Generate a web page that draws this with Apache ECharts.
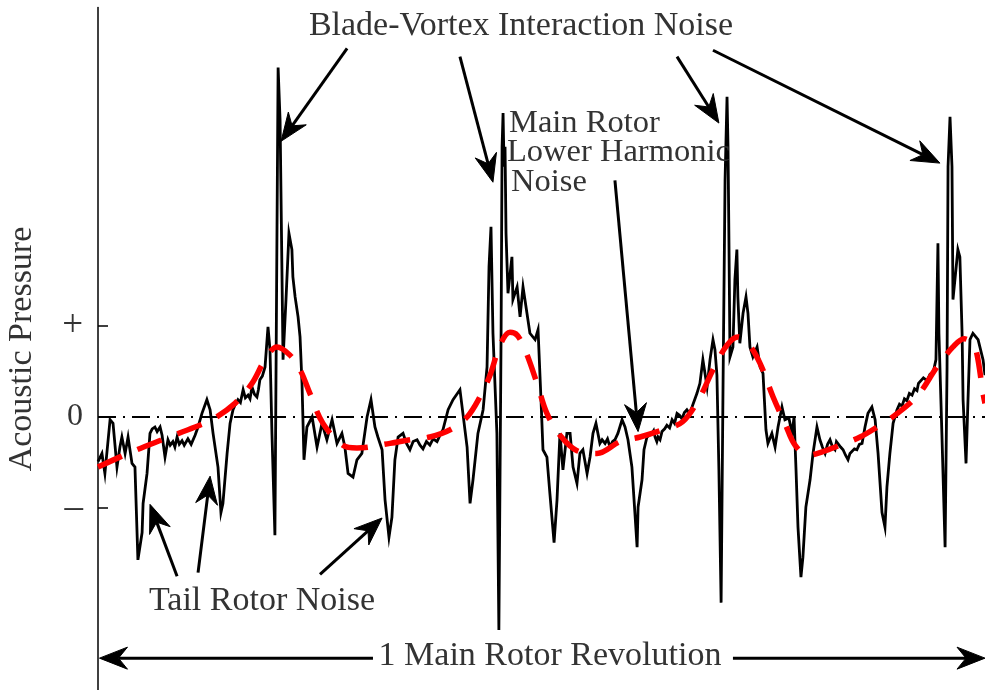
<!DOCTYPE html>
<html>
<head>
<meta charset="utf-8">
<script src="https://cdn.jsdelivr.net/npm/echarts@6/dist/echarts.min.js"></script>
<style>
  html, body { margin: 0; padding: 0; background: #fff; }
  #chart { width: 985px; height: 690px; }
</style>
</head>
<body>
<div id="chart"></div>
<script>
// Measured acoustic pressure over one main rotor revolution, [azimuth deg, pressure (arb.)]
// Split by blade passage.
const bladePass1 = [
  [0,-0.49],[1.6,-0.40],[2.8,-0.62],[4.9,-0.03],[6.1,-0.07],[7.7,-0.55],[8.9,-0.33],[9.7,-0.22],
  [11.0,-0.40],[12.2,-0.22],[13.8,-0.51],[15.0,-0.55],[16.2,-1.57],[17.9,-1.27],[18.3,-0.95],
  [19.9,-0.62],[21.1,-0.18],[22.0,-0.13],[23.1,-0.11],[24.0,-0.16],[25.2,-0.11],[26.0,-0.20],
  [27.2,-0.44],[28.4,-0.25],[29.3,-0.31],[30.4,-0.27],[31.2,-0.33],[32.1,-0.22],[33.0,-0.30],
  [34.1,-0.26],[35.0,-0.31],[36.5,-0.24],[37.8,-0.30],[39.4,-0.20],[40.6,-0.11],[42.2,0.04],
  [44.2,0.19],[45.5,0.08],[46.7,-0.18],[48.7,-0.55],[49.9,-1.05],[50.7,-0.95],[52.4,-0.40],
  [53.6,-0.07],[54.8,0.08],[55.6,0.13],[56.8,0.19],[57.8,0.16],[58.9,0.30],[59.8,0.21],
  [60.9,0.24],[61.7,0.20],[62.5,0.33],[63.5,0.25],[64.5,0.22],[65.1,0.30],[65.7,0.41],
  [66.7,0.45],[67.8,0.55],[69.0,0.99],[69.8,0.74],[70.6,-0.18],[71.8,-1.30],[73.1,3.84],
  [73.9,3.26],[75.1,0.63],[76.3,1.29],[77.5,2.02],[78.7,1.84],[79.1,1.54],[80.0,1.32],
  [81.2,1.10],[82.0,0.88],[82.8,0.37],[83.6,-0.47]
];
const bladePass2 = [
  [84.8,-0.11],[86.9,0],[88.9,-0.33],[90.9,-0.07],[92.9,-0.25],[95.0,-0.03],[97.0,-0.29],
  [99.0,-0.18],[100.2,-0.33],[101.5,-0.62],[103.5,-0.66],[105.1,-0.47],[107.1,-0.40],
  [109.2,0],[110.8,0.19],[112.4,-0.11],[113.6,-0.22],[115.3,-0.36],[116.5,-0.91],[118.1,-1.32],
  [119.3,-1.10],[120.5,-0.47],[121.8,-0.22],[123.8,-0.18],[125.2,-0.29],[126.6,-0.36],
  [127.9,-0.27],[129.5,-0.25],[130.7,-0.31],[131.9,-0.35],[133.3,-0.27],[134.7,-0.31],
  [136.0,-0.24],[137.6,-0.27],[138.8,-0.20],[140.0,-0.14],[142.1,0.08],[144.1,0.19],
  [146.9,0.30],[148.1,0.04],[149.8,-0.33],[151.0,-0.95],[152.2,-0.69],[154.2,-0.18],
  [156.3,0.08],[157.9,0.55],[158.7,1.65],[159.5,2.09],[160.3,0.92],[161.9,-0.18],[162.7,-2.34],
  [163.6,0.92],[164.0,2.97],[164.4,3.34],[164.8,2.75],[165.2,2.97],[165.6,2.02],[166.4,1.36],
  [168.0,1.76],[168.4,1.29],[170.1,1.43],[171.3,1.10],[172.5,1.43],[174.1,1.14],[175.3,0.92],
  [177.4,0.85],[178.6,0.96],[179.8,0.19]
];
const bladePass3 = [
  [180.6,-0.36],[182.2,-0.44],[183.4,-0.84],[185.1,-1.38],[186.3,-0.91],[187.5,-0.18],
  [188.7,-0.58],[190.3,-0.18],[191.6,-0.18],[192.8,-0.55],[194.4,-0.73],[195.6,-0.40],
  [196.8,-0.36],[198.5,-0.62],[199.7,-0.44],[200.9,-0.18],[202.1,-0.07],[203.7,-0.29],
  [204.6,-0.25],[205.8,-0.29],[206.8,-0.24],[207.8,-0.33],[208.8,-0.27],[209.8,-0.25],
  [211.0,-0.18],[212.7,-0.03],[213.9,-0.11],[215.1,-0.25],[216.7,-0.55],[217.9,-1.05],
  [218.8,-1.43],[219.2,-0.99],[220.8,-0.69],[221.6,-0.36],[222.8,-0.22],[224.8,-0.18],
  [225.5,-0.15],[226.1,-0.22],[226.8,-0.27],[227.3,-0.22],[228.1,-0.25],[228.9,-0.16],
  [230.0,-0.13],[230.9,-0.09],[232.0,-0.12],[233.0,-0.03],[234.0,-0.07],[235.0,0.04],
  [236.0,0.02],[237.0,-0.02],[238.0,0.05],[239.0,0.08],[240.0,0.04],[241.1,0.11],[243.1,0.26],
  [244.3,0.37],[245.5,0.63],[247.2,0.33],[248.4,0.63],[249.6,0.85],[250.4,0.74],[251.2,0.46],
  [252.0,-0.58],[252.9,-2.04],[253.7,0.41],[254.5,2.60],[255.3,3.52],[255.7,2.97],[256.1,1.87],
  [256.5,0.66],[257.7,0.77],[258.5,1.51],[259.3,1.84],[259.7,1.32],[260.5,0.81],[261.8,1.14],
  [263.0,1.32],[263.8,1.14],[264.6,0.77],[265.8,0.66],[267.5,0.77],[268.7,0.55],[269.9,0.48],
  [271.1,-0.14],[271.9,-0.29]
];
const bladePass4 = [
  [273.5,-0.18],[274.8,-0.33],[276.0,-0.11],[277.6,0.11],[278.8,-0.03],[280.4,-0.01],
  [281.7,-0.18],[282.5,0],[283.3,-0.58],[284.1,-1.21],[285.3,-1.76],[286.1,-1.54],[287.3,-0.99],
  [289.0,-0.69],[290.2,-0.40],[291.8,-0.11],[293.0,-0.25],[294.0,-0.33],[295.1,-0.40],
  [296.1,-0.30],[297.1,-0.25],[298.1,-0.33],[299.1,-0.36],[299.7,-0.27],[300.3,-0.29],
  [301.4,-0.33],[302.4,-0.36],[303.4,-0.42],[304.4,-0.47],[305.2,-0.40],[306.0,-0.42],
  [307.0,-0.35],[308.0,-0.36],[309.0,-0.30],[310.1,-0.29],[311.3,-0.11],[312.5,0.04],
  [314.1,0.11],[315.4,-0.03],[316.6,-0.40],[318.2,-1.05],[319.4,-1.21],[320.2,-0.77],
  [321.4,-0.40],[322.7,-0.07],[324.3,0.08],[325.3,0.14],[326.3,0.12],[327.3,0.20],[328.3,0.18],
  [329.3,0.26],[330.4,0.24],[331.4,0.31],[332.4,0.29],[333.0,0.37],[333.6,0.35],[335.0,0.43],
  [336.5,0.40],[337.7,0.47],[338.9,0.48],[340.1,0.63],[340.9,1.91],[341.3,0.92],[342.5,-0.18],
  [343.8,-1.43],[344.6,0.55],[345.0,2.75],[345.8,3.30],[346.6,2.75],[347.0,1.29],[347.8,1.29],
  [349.0,1.84],[349.8,1.76],[350.7,0.92],[351.1,0.19],[352.3,-0.51],[353.1,0.19],[353.9,0.85],
  [355.1,0.92],[357.2,0.85],[359.2,0.63],[360.0,0.46]
];

// Main rotor lower-harmonic content (smooth component)
const lowerHarmonic = [
  [0,-0.55],[12.2,-0.40],[26.0,-0.25],[39.4,-0.11],[46.3,-0.03],[55.6,0.15],[62.5,0.37],
  [67.8,0.63],[72.6,0.77],[77.9,0.68],[82.0,0.52],[86.0,0.26],[91.3,-0.07],[99.4,-0.31],
  [105.1,-0.34],[118.5,-0.29],[126.6,-0.25],[134.7,-0.22],[142.9,-0.14],[149.8,0],[155.0,0.22],
  [159.1,0.46],[163.2,0.79],[167.2,0.93],[170.1,0.90],[173.3,0.74],[178.2,0.37],[182.2,0.04],
  [187.5,-0.20],[194.4,-0.37],[202.5,-0.40],[211.9,-0.27],[220.0,-0.22],[229.3,-0.14],
  [237.4,-0.05],[244.3,0.22],[249.6,0.52],[255.3,0.79],[259.7,0.88],[263.8,0.81],[268.7,0.59],
  [274.0,0.22],[278.8,-0.07],[282.9,-0.31],[288.2,-0.42],[294.2,-0.38],[301.1,-0.31],
  [309.3,-0.22],[316.2,-0.11],[323.5,0.02],[332.8,0.24],[340.5,0.55],[347.0,0.77],[351.5,0.86],
  [354.5,0.82],[356.5,0.72],[359.2,0.26],[360,0.15]
];

const zeroLine = [[0, 0], [360, 0]];

const pressureTicks = [-1, 0, 1];
const pressureTickLabels = ['{sign|–}', '{zero|0}', '{sign|+}'];

const FONT = 'Liberation Serif';
const TEXT_COLOR = '#333';

const chart = echarts.init(document.getElementById('chart'), null, { renderer: 'canvas' });

const signal = bladePass1.concat(bladePass2, bladePass3, bladePass4);

chart.setOption({
  animation: false,
  backgroundColor: '#fff',
  grid: { left: 98, right: 0, top: 7.5, bottom: 0, containLabel: false, outerBoundsMode: 'none' },
  xAxis: { type: 'value', min: 0, max: 360, show: false },
  yAxis: {
    type: 'value', min: -3, max: 4.5,
    axisLine: { show: true, lineStyle: { color: '#000', width: 1.5 } },
    axisTick: { show: true, inside: true, length: 10, customValues: pressureTicks,
                lineStyle: { color: '#000', width: 1.5 } },
    axisLabel: {
      customValues: pressureTicks, margin: 15,
      fontFamily: FONT, fontSize: 32, color: TEXT_COLOR,
      formatter: v => pressureTickLabels[pressureTicks.indexOf(Math.round(v))] || '',
      rich: {
        sign: { fontFamily: FONT, fontSize: 37, color: TEXT_COLOR },
        zero: { fontFamily: FONT, fontSize: 32, color: TEXT_COLOR }
      }
    },
    splitLine: { show: false }
  },
  series: [
    { type: 'line', data: zeroLine, symbol: 'none', z: 1, silent: true,
      lineStyle: { color: '#000', width: 2, type: [18, 7, 2, 7] } },
    { type: 'line', data: signal, symbol: 'none', z: 2,
      lineStyle: { color: '#000', width: 2.8, join: 'miter' } },
    { type: 'line', data: lowerHarmonic, symbol: 'none', smooth: 0.35, z: 3,
      lineStyle: { color: '#ff0000', width: 5.5, type: [26, 17] } }
  ]
});

// Annotation arrows, tail -> head, in data coordinates
const arrows = [
  { from: [101.1, 4.05], to: [74.3, 3.03] },
  { from: [146.9, 3.96], to: [160.3, 2.58] },
  { from: [235.0, 3.96], to: [252.0, 3.23] },
  { from: [249.6, 4.03], to: [341.7, 2.79] },
  { from: [209.8, 2.60], to: [219.2, -0.16] },
  { from: [32.1, -1.75], to: [21.1, -0.96] },
  { from: [40.6, -1.71], to: [45.5, -0.65] },
  { from: [90.1, -1.73], to: [115.3, -1.11] },
  { from: [111.6, -2.65], to: [0.6, -2.65] },
  { from: [257.7, -2.65], to: [360, -2.65] }
];

function arrowGraphic(a) {
  const p0 = chart.convertToPixel({ gridIndex: 0 }, a.from);
  const p1 = chart.convertToPixel({ gridIndex: 0 }, a.to);
  const dx = p1[0] - p0[0], dy = p1[1] - p0[1];
  const len = Math.hypot(dx, dy);
  const ux = dx / len, uy = dy / len, nx = -uy, ny = ux;
  const L = 28, W = 11, N = 19;
  const left = [p1[0] - ux * L + nx * W, p1[1] - uy * L + ny * W];
  const right = [p1[0] - ux * L - nx * W, p1[1] - uy * L - ny * W];
  const notch = [p1[0] - ux * N, p1[1] - uy * N];
  return [
    { type: 'line', shape: { x1: p0[0], y1: p0[1], x2: notch[0], y2: notch[1] },
      style: { stroke: '#000', lineWidth: 3 }, z: 10 },
    { type: 'polygon', shape: { points: [p1, left, notch, right] },
      style: { fill: '#000', stroke: '#000', lineWidth: 1 }, z: 10 }
  ];
}

function label(text, x, y, align, size, extra) {
  return Object.assign({
    type: 'text', x, y, z: 11,
    style: { text, fontFamily: FONT, fontSize: size, fill: TEXT_COLOR,
             align, verticalAlign: 'middle' }
  }, extra || {});
}

const graphics = [];
arrows.forEach(a => graphics.push(...arrowGraphic(a)));
graphics.push(
  label('Blade-Vortex Interaction Noise', 521, 26, 'center', 34),
  label('Main Rotor', 509, 123, 'left', 32.5),
  label('Lower Harmonic', 507, 152, 'left', 32.5),
  label('Noise', 511, 182, 'left', 32.5),
  label('Tail Rotor Noise', 262, 601, 'center', 34),
  label('1 Main Rotor Revolution', 550, 656, 'center', 34),
  label('Acoustic Pressure', 22, 349, 'center', 34, { rotation: Math.PI / 2 })
);
chart.setOption({ graphic: graphics });
</script>
</body>
</html>
